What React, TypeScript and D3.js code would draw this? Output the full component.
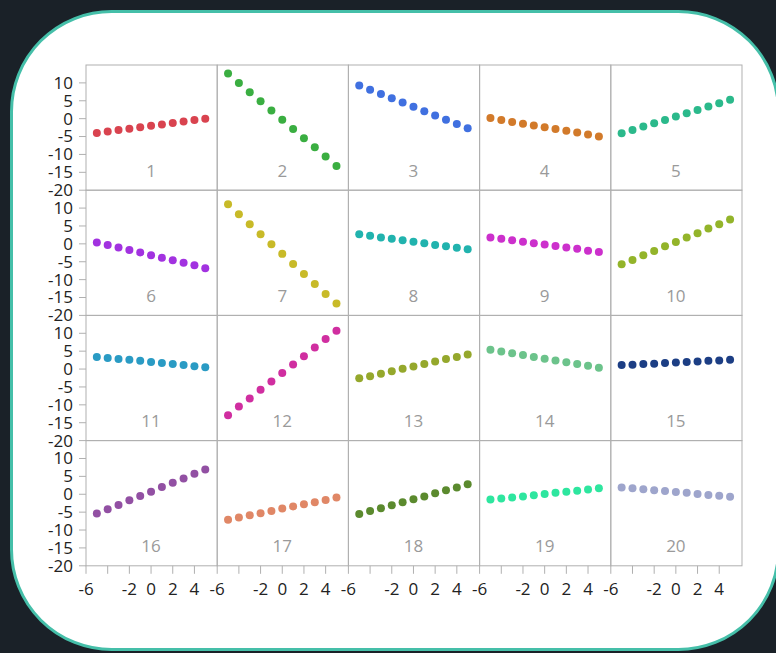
import React from "react";
import * as d3 from "d3";

const xValues = [-5, -4, -3, -2, -1, 0, 1, 2, 3, 4, 5];

const s1 = [-4.0, -3.6, -3.2, -2.8, -2.4, -2.0, -1.6, -1.2, -0.8, -0.4, 0.0];
const s2 = [12.6, 10.0, 7.4, 4.9, 2.3, -0.3, -2.9, -5.5, -8.0, -10.6, -13.2];
const s3 = [9.3, 8.1, 6.9, 5.7, 4.5, 3.3, 2.1, 0.9, -0.3, -1.5, -2.7];
const s4 = [0.2, -0.4, -0.9, -1.4, -1.9, -2.4, -2.9, -3.4, -3.9, -4.4, -5.0];
const s5 = [-4.1, -3.2, -2.2, -1.3, -0.4, 0.6, 1.5, 2.4, 3.4, 4.3, 5.3];
const s6 = [0.4, -0.3, -1.0, -1.7, -2.4, -3.2, -3.9, -4.6, -5.3, -6.0, -6.8];
const s7 = [11.1, 8.3, 5.5, 2.7, -0.1, -2.8, -5.6, -8.4, -11.2, -14.0, -16.7];
const s8 = [2.7, 2.3, 1.8, 1.4, 1.0, 0.6, 0.2, -0.3, -0.7, -1.1, -1.5];
const s9 = [1.8, 1.4, 1.0, 0.6, 0.2, -0.2, -0.6, -1.0, -1.4, -1.9, -2.3];
const s10 = [-5.7, -4.5, -3.2, -2.0, -0.7, 0.5, 1.8, 3.0, 4.3, 5.5, 6.8];
const s11 = [3.4, 3.1, 2.8, 2.6, 2.3, 2.0, 1.7, 1.4, 1.1, 0.8, 0.5];
const s12 = [-12.9, -10.5, -8.2, -5.8, -3.5, -1.1, 1.3, 3.6, 6.0, 8.4, 10.7];
const s13 = [-2.6, -2.0, -1.3, -0.6, 0.1, 0.7, 1.4, 2.1, 2.8, 3.4, 4.1];
const s14 = [5.4, 4.9, 4.4, 3.9, 3.4, 2.9, 2.4, 1.9, 1.4, 0.9, 0.4];
const s15 = [1.1, 1.2, 1.4, 1.5, 1.7, 1.8, 2.0, 2.1, 2.3, 2.4, 2.6];
const s16 = [-5.4, -4.2, -3.0, -1.7, -0.5, 0.7, 2.0, 3.2, 4.4, 5.7, 6.9];
const s17 = [-7.1, -6.5, -5.9, -5.3, -4.7, -4.0, -3.4, -2.8, -2.2, -1.6, -0.9];
const s18 = [-5.5, -4.7, -3.9, -3.1, -2.2, -1.4, -0.6, 0.3, 1.1, 1.9, 2.8];
const s19 = [-1.5, -1.2, -0.9, -0.6, -0.3, 0.1, 0.4, 0.7, 1.0, 1.3, 1.7];
const s20 = [1.9, 1.7, 1.4, 1.1, 0.9, 0.6, 0.4, 0.1, -0.2, -0.4, -0.7];

const seriesList = [s1, s2, s3, s4, s5, s6, s7, s8, s9, s10, s11, s12, s13, s14, s15, s16, s17, s18, s19, s20];

const colors = [
  "#d9434f", "#3aae41", "#4070e0", "#d27a2a", "#2bb98b",
  "#a232e0", "#c8ba28", "#21b3ae", "#cc30cc", "#93b42a",
  "#2a9bc4", "#d02ea0", "#95a82c", "#6cc38b", "#1c3e84",
  "#9250a3", "#e08766", "#5b8a2e", "#2ee69f", "#9ea5cc",
];

const panelLabels = ["1", "2", "3", "4", "5", "6", "7", "8", "9", "10", "11", "12", "13", "14", "15", "16", "17", "18", "19", "20"];

const yTicks = [10, 5, 0, -5, -10, -15, -20];
const yTickLabels = ["10", "5", "0", "-5", "-10", "-15", "-20"];
const xTicks = [-6, -4, -2, 0, 2, 4];
const xTickLabels = ["-6", "", "-2", "0", "2", "4"];

const W = 776;
const H = 653;
const left = 86;
const top = 65;
const cols = 5;
const rows = 4;
const panelW = 131.2;
const panelH = 125.2;

const font = "'Open Sans', 'Noto Sans', sans-serif";

export default function App() {
  const x = d3.scaleLinear().domain([-6, 6.1]).range([0, panelW]);
  const y = d3.scaleLinear().domain([-20, 15]).range([panelH, 0]);

  const panels = seriesList.map((vals, i) => {
    const c = i % cols;
    const r = Math.floor(i / cols);
    const px = left + c * panelW;
    const py = top + r * panelH;
    return (
      <g key={i} transform={`translate(${px},${py})`}>
        <rect x={0} y={0} width={panelW} height={panelH} fill="none" stroke="#b0b0b0" strokeWidth={1} />
        <text x={x(0)} y={111.5} textAnchor="middle" fontSize={17} fill="#9a9a9a" fontFamily={font}>
          {panelLabels[i]}
        </text>
        {vals.map((v, j) => (
          <circle key={j} cx={x(xValues[j])} cy={y(v)} r={4} fill={colors[i]} />
        ))}
      </g>
    );
  });

  const yAxes = d3.range(rows).map((r) => (
    <g key={`ya${r}`} transform={`translate(${left},${top + r * panelH})`}>
      {yTicks.map((t, k) => (
        <g key={k} transform={`translate(0,${y(t)})`}>
          <line x1={-7} x2={0} y1={0} y2={0} stroke="#b0b0b0" />
          <text x={-13} y={0} dy="0.35em" textAnchor="end" fontSize={17} fill="#222" fontFamily={font}>
            {yTickLabels[k]}
          </text>
        </g>
      ))}
    </g>
  ));

  const xAxes = d3.range(cols).map((c) => (
    <g key={`xa${c}`} transform={`translate(${left + c * panelW},${top + rows * panelH})`}>
      {xTicks.map((t, k) => (
        <g key={k} transform={`translate(${x(t)},0)`}>
          <line x1={0} x2={0} y1={0} y2={8} stroke="#b0b0b0" />
          <text x={0} y={29} textAnchor="middle" fontSize={17} fill="#222" fontFamily={font}>
            {xTickLabels[k]}
          </text>
        </g>
      ))}
    </g>
  ));

  return (
    <div style={{ position: "fixed", left: 0, top: 0, width: W, height: H, background: "#1a2128", overflow: "hidden" }}>
      <svg width={W} height={H} style={{ position: "absolute", left: 0, top: 0, display: "block" }}>
        <rect x={11.5} y={11.5} width={767} height={638} rx={100} ry={100} fill="#ffffff" stroke="#45bfa9" strokeWidth={3} />
        {panels}
        {yAxes}
        {xAxes}
      </svg>
    </div>
  );
}
